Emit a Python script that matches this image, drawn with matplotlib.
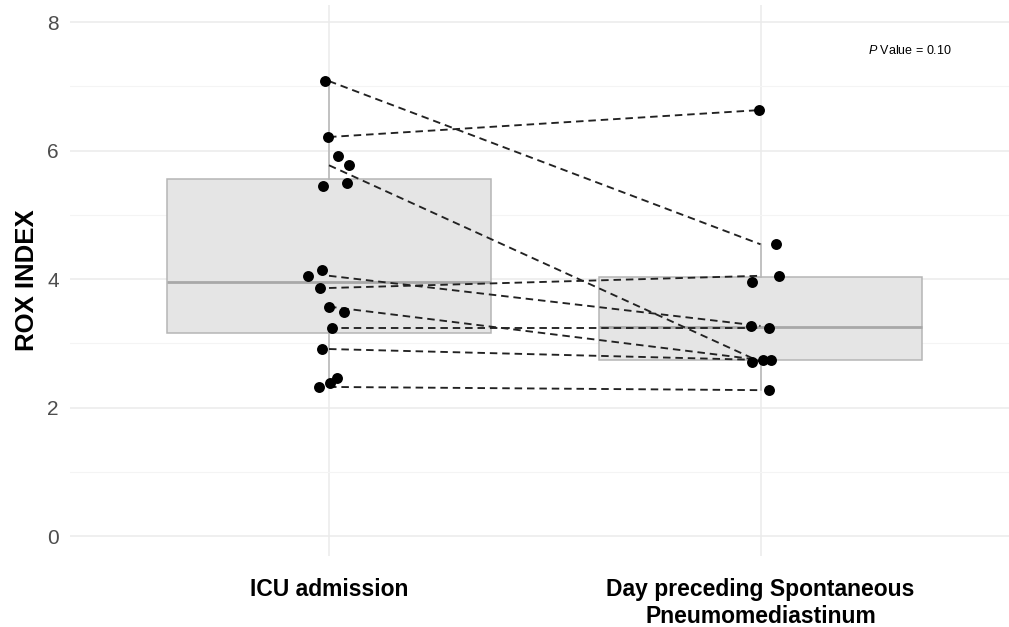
import numpy as np
import matplotlib
matplotlib.use("Agg")
import matplotlib.pyplot as plt

plt.rcParams['font.family'] = ['Liberation Sans', 'DejaVu Sans']
plt.rcParams['mathtext.fontset'] = 'custom'
plt.rcParams['mathtext.rm'] = 'Liberation Sans'
plt.rcParams['mathtext.it'] = 'Liberation Sans:italic'

# ---- data ----
categories = ["ICU admission", "Day preceding Spontaneous\nPneumomediastinum"]
# paired values per patient (NaN = not measured at that time point)
icu_values = [7.08, 6.21, 5.77, 4.05, 3.86, 3.57, 3.24, 2.91, 2.32,
              5.91, 5.45, 5.49, 4.14, 3.49, 2.38, 2.46, np.nan]
day_values = [4.54, 6.63, 2.71, 3.27, 4.05, 2.74, 3.24, 2.74, 2.27,
              np.nan, np.nan, np.nan, np.nan, np.nan, np.nan, np.nan, 3.96]
# horizontal jitter of the points (category units)
icu_jitter = [-0.009, -0.002, 0.046, -0.049, -0.021, 0.0, 0.007, -0.016, -0.023,
              0.021, -0.014, 0.042, -0.016, 0.035, 0.002, 0.019, 0.0]
day_jitter = [0.037, -0.004, -0.019, -0.023, 0.042, 0.005, 0.019, 0.025, 0.019,
              0.0, 0.0, 0.0, 0.0, 0.0, 0.0, 0.0, -0.019]
y_ticks = [0, 2, 4, 6, 8]
p_text = r"$\it{P}$ Value = 0.10"

icu = np.array(icu_values, dtype=float)
day = np.array(day_values, dtype=float)

W, H = 1009, 627
fig = plt.figure(figsize=(W / 100, H / 100), dpi=100)
left, right, top, bottom = 70, 1009, 5, 556
ax = fig.add_axes([left / W, 1 - bottom / H, (right - left) / W, (bottom - top) / H])

# scales: x=1 at px 329, 431.5 px per unit; y=0 at px 536, 64.25 px per unit
ax.set_xlim(1 - (329 - left) / 431.5, 1 + (right - 329) / 431.5)
ax.set_ylim((536 - bottom) / 64.25, (536 - top) / 64.25)

# grid
ax.set_facecolor("white")
for s in ax.spines.values():
    s.set_visible(False)
ax.set_yticks(y_ticks)
ax.set_yticks([1, 3, 5, 7], minor=True)
ax.set_xticks([1, 2])
ax.grid(True, which="major", color="#EBEBEB", linewidth=1.1, zorder=0)
ax.grid(True, which="minor", axis="y", color="#F4F4F4", linewidth=0.8, zorder=0)
ax.set_axisbelow(True)

# boxplots
groups = [icu[~np.isnan(icu)], day[~np.isnan(day)]]
edge = "#B5B5B5"
bp = ax.boxplot(groups, positions=[1, 2], widths=0.75, patch_artist=True,
                showfliers=False, whis=1.5, manage_ticks=False, zorder=1,
                boxprops=dict(facecolor="#E5E5E5", edgecolor=edge, linewidth=1.1),
                whiskerprops=dict(color=edge, linewidth=1.1),
                capprops=dict(linewidth=0),
                medianprops=dict(color="#A8A8A8", linewidth=2.0))

# paired dashed lines
for a, b in zip(icu, day):
    if not (np.isnan(a) or np.isnan(b)):
        ax.plot([1, 2], [a, b], color="#222222", linewidth=1.35,
                linestyle=(0, (4, 2.6)), zorder=3)

# jittered points
m = ~np.isnan(icu)
ax.scatter(1 + np.array(icu_jitter)[m], icu[m], s=62, color="black", zorder=4, linewidths=0)
m = ~np.isnan(day)
ax.scatter(2 + np.array(day_jitter)[m], day[m], s=62, color="black", zorder=4, linewidths=0)

# ticks and labels
ax.tick_params(axis="both", which="both", length=0)
ax.tick_params(axis="y", labelsize=15, labelcolor="#4D4D4D", pad=8)
ax.set_xticklabels(categories, fontsize=16.5, fontweight="bold", color="black",
                   linespacing=1.2)
ax.tick_params(axis="x", pad=16)
ax.set_ylabel("ROX INDEX", fontsize=18.5, fontweight="bold", color="black", labelpad=6)

ax.text(2.346, 7.56, p_text, fontsize=9, ha="center", va="center", color="black")

fig.savefig("out.png", dpi=100, facecolor="white")
